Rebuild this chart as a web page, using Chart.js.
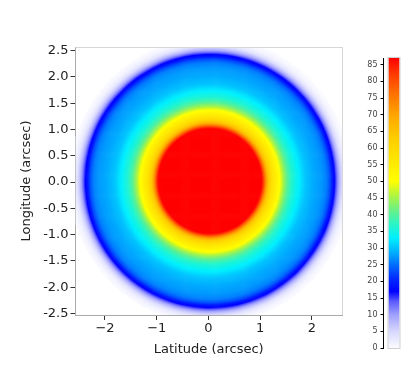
<!DOCTYPE html>
<html><head><meta charset="utf-8">
<script src="https://cdn.jsdelivr.net/npm/chart.js@4/dist/chart.umd.min.js"></script>
<style>
html,body{margin:0;padding:0;background:#fff;}
#wrap{position:relative;width:420px;height:369px;overflow:hidden;}
#main{position:absolute;left:0;top:0;}
#cbar{position:absolute;left:340px;top:0;}
</style></head><body>
<div id="wrap"><canvas id="main" width="420" height="369"></canvas><canvas id="cbar" width="80" height="369"></canvas></div>
<script>
// ---- data ----
const xTicks = [-2, -1, 0, 1, 2];
const xTickLabels = ['\u22122', '\u22121', '0', '1', '2'];
const yTicks = [2.5, 2.0, 1.5, 1.0, 0.5, 0.0, -0.5, -1.0, -1.5, -2.0, -2.5];
const yTickLabels = ['2.5', '2.0', '1.5', '1.0', '0.5', '0.0', '-0.5', '-1.0', '-1.5', '-2.0', '-2.5'];
const colorTicks = [0, 5, 10, 15, 20, 25, 30, 35, 40, 45, 50, 55, 60, 65, 70, 75, 80, 85];
const colorMax = 87;
// radial intensity profile (radius in arcsec -> level)
const profileRadius = [0, 0.9, 1.0, 1.04, 1.08, 1.13, 1.2, 1.28, 1.35, 1.42, 1.5, 1.6, 1.72, 1.85, 2.0, 2.15, 2.25, 2.32, 2.37, 2.41, 2.45, 2.49, 2.53, 2.58, 2.65, 2.75];
const profileLevel  = [100, 95, 87, 80, 72, 64, 58, 54, 50, 45, 40, 36, 33, 30, 28.5, 27.5, 26, 23, 19, 17, 13, 9, 6, 3, 1, 0];
const centre = [0.03, 0.03];
// colour scale stops: level -> rgb
const cmapLevel = [0, 5, 10, 14, 17, 21, 25, 29, 33, 37, 41, 46, 50, 56, 63, 70, 76, 82, 87];
const cmapRGB = [[252,252,255],[215,215,255],[160,160,255],[90,90,255],[0,0,255],[0,45,255],[0,110,255],[0,180,255],[0,240,255],[40,245,200],[100,240,140],[180,245,60],[255,255,0],[255,232,0],[255,205,0],[255,165,0],[255,115,0],[255,60,0],[255,0,0]];

const FONT = 'DejaVu Sans, Verdana, sans-serif';

function lerpTable(xs, ys, v) {
  if (v <= xs[0]) return ys[0];
  for (let i = 1; i < xs.length; i++) {
    if (v <= xs[i]) { const t = (v - xs[i-1]) / (xs[i] - xs[i-1]); return ys[i-1] + t * (ys[i] - ys[i-1]); }
  }
  return ys[ys.length - 1];
}
function colorFor(v) {
  v = Math.max(0, Math.min(colorMax, v));
  let i = 1; while (i < cmapLevel.length - 1 && v > cmapLevel[i]) i++;
  const a = cmapLevel[i-1], b = cmapLevel[i], t = Math.max(0, Math.min(1, (v - a) / (b - a)));
  const c0 = cmapRGB[i-1], c1 = cmapRGB[i];
  return 'rgb(' + Math.round(c0[0] + t*(c1[0]-c0[0])) + ',' + Math.round(c0[1] + t*(c1[1]-c0[1])) + ',' + Math.round(c0[2] + t*(c1[2]-c0[2])) + ')';
}
function levelAt(x, y) {
  const r = Math.hypot(x - centre[0], y - centre[1]);
  return lerpTable(profileRadius, profileLevel, r);
}

const heatPlugin = {
  id: 'heat',
  beforeDatasetsDraw(chart) {
    const {ctx, chartArea: ca, scales: {x, y}} = chart;
    ctx.save();
    ctx.beginPath(); ctx.rect(ca.left, ca.top, ca.right - ca.left, ca.bottom - ca.top); ctx.clip();
    const step = 0.02;
    for (let gx = x.min; gx < x.max; gx += step) {
      const px0 = x.getPixelForValue(gx), px1 = x.getPixelForValue(gx + step);
      for (let gy = y.min; gy < y.max; gy += step) {
        const v = levelAt(gx + step / 2, gy + step / 2);
        if (v < 0.3) continue;
        const py0 = y.getPixelForValue(gy), py1 = y.getPixelForValue(gy + step);
        ctx.fillStyle = colorFor(v);
        ctx.fillRect(px0, py1, px1 - px0 + 0.6, py0 - py1 + 0.6);
      }
    }
    ctx.restore();
  },
  afterDraw(chart) {
    const {ctx, chartArea: ca} = chart;
    ctx.save();
    ctx.strokeStyle = '#d6d6d6'; ctx.lineWidth = 1;
    ctx.beginPath();
    ctx.moveTo(ca.left, ca.top + 0.5); ctx.lineTo(ca.right + 0.5, ca.top + 0.5); ctx.lineTo(ca.right + 0.5, ca.bottom);
    ctx.stroke();
    ctx.restore();
  }
};

new Chart(document.getElementById('main'), {
  type: 'scatter',
  data: { datasets: [] },
  options: {
    responsive: false, animation: false, devicePixelRatio: 1,
    layout: { padding: { left: 0, top: 47, right: 78, bottom: 0 } },
    plugins: { legend: { display: false }, tooltip: { enabled: false } },
    scales: {
      x: {
        type: 'linear', min: -2.57, max: 2.58,
        afterBuildTicks: s => { s.ticks = xTicks.map(v => ({ value: v })); },
        afterFit: s => { s.height = 54; },
        ticks: { callback: v => xTickLabels[xTicks.indexOf(v)], font: { family: FONT, size: 13 }, color: '#222', padding: 1, maxRotation: 0, autoSkip: false },
        grid: { drawOnChartArea: false, drawTicks: true, tickLength: 5, tickColor: '#333', color: '#333' },
        border: { display: true, color: '#aaaaaa', width: 1 },
        title: { display: true, text: 'Latitude (arcsec)', font: { family: FONT, size: 13 }, color: '#222', padding: { top: 0, bottom: 12 } }
      },
      y: {
        type: 'linear', min: -2.53, max: 2.57,
        afterBuildTicks: s => { s.ticks = yTicks.map(v => ({ value: v })); },
        afterFit: s => { s.width = 75.5; },
        ticks: { callback: v => yTickLabels[yTicks.indexOf(v)], font: { family: FONT, size: 13 }, color: '#222', padding: 2, autoSkip: false },
        grid: { drawOnChartArea: false, drawTicks: true, tickLength: 5, tickColor: '#333', color: '#333' },
        border: { display: true, color: '#aaaaaa', width: 1 },
        title: { display: true, text: 'Longitude (arcsec)', font: { family: FONT, size: 13 }, color: '#222', padding: { top: 19, bottom: 0 } }
      }
    }
  },
  plugins: [heatPlugin]
});

const barPlugin = {
  id: 'cbar',
  beforeDatasetsDraw(chart) {
    const {ctx, chartArea: ca, scales: {y}} = chart;
    const x0 = ca.left + 5, x1 = ca.left + 16;
    const yTop = y.getPixelForValue(colorMax), yBot = y.getPixelForValue(0);
    const g = ctx.createLinearGradient(0, yBot, 0, yTop);
    for (let i = 0; i < cmapLevel.length; i++) {
      const c = cmapRGB[i];
      g.addColorStop(cmapLevel[i] / colorMax, 'rgb(' + c.join(',') + ')');
    }
    ctx.save();
    ctx.fillStyle = g;
    ctx.fillRect(x0, yTop, x1 - x0, yBot - yTop);
    ctx.strokeStyle = '#cfcfcf'; ctx.lineWidth = 1;
    ctx.strokeRect(x0 - 0.5, yTop - 0.5, x1 - x0 + 1, yBot - yTop + 1);
    ctx.restore();
  }
};

new Chart(document.getElementById('cbar'), {
  type: 'scatter',
  data: { datasets: [] },
  options: {
    responsive: false, animation: false, devicePixelRatio: 1,
    layout: { padding: { left: 0, top: 58, right: 16, bottom: 21 } },
    plugins: { legend: { display: false }, tooltip: { enabled: false } },
    scales: {
      x: { type: 'linear', display: false, min: 0, max: 1 },
      y: {
        type: 'linear', min: 0, max: colorMax,
        afterBuildTicks: s => { s.ticks = colorTicks.map(v => ({ value: v })); },
        afterFit: s => { s.width = 43.5; },
        ticks: { font: { family: FONT, size: 8 }, color: '#444', padding: 3, autoSkip: false },
        grid: { drawOnChartArea: false, drawTicks: true, tickLength: 3, tickColor: '#000', color: '#000' },
        border: { display: true, color: '#000', width: 1 }
      }
    }
  },
  plugins: [barPlugin]
});
</script>
</body></html>
